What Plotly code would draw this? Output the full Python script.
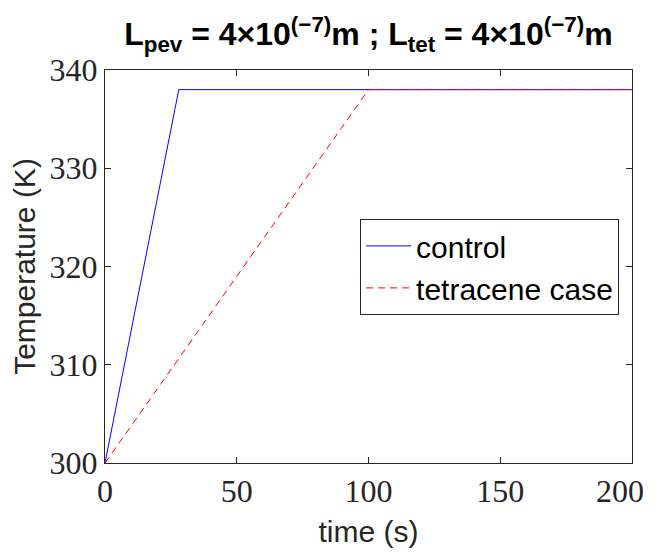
import plotly.graph_objects as go

# Data
control_t = [0, 28, 200]
control_T = [300, 338, 338]
tetracene_t = [0, 100, 200]
tetracene_T = [300, 338, 338]
x_ticks = [0, 50, 100, 150, 200]
x_tick_labels = ["0", "50", "100", "150", "200\u00a0\u00a0\u00a0"]
y_ticks = [300, 310, 320, 330, 340]

SANS = "Liberation Sans, Arial, sans-serif"
SERIF = "Liberation Serif, DejaVu Serif, serif"

fig = go.Figure()
fig.add_trace(go.Scatter(x=control_t, y=control_T, mode="lines", name="control",
                         line=dict(color="#0000ff", width=1)))
fig.add_trace(go.Scatter(x=tetracene_t, y=tetracene_T, mode="lines", name="tetracene case",
                         line=dict(color="#ff0000", width=1, dash="7px,5px")))

axis_common = dict(showline=True, linecolor="#262626", linewidth=1, mirror="ticks",
                   ticks="inside", ticklen=6, tickcolor="#262626", showgrid=False,
                   zeroline=False, automargin=False, ticklabeloverflow="allow",
                   tickfont=dict(family=SERIF, size=32, color="#262626"))

fig.update_layout(
    width=647, height=544,
    margin=dict(l=97, r=23, t=62, b=89),
    paper_bgcolor="white", plot_bgcolor="white",
    title=dict(
        text="<b>L<sub>pev</sub> = 4×10<sup>(−7)</sup>m ; L<sub>tet</sub> = 4×10<sup>(−7)</sup>m</b>",
        x=0.557, xanchor="center", y=0.952, yanchor="middle",
        font=dict(family=SANS, size=32, color="black")),
    xaxis=dict(range=[0, 200], tickvals=x_ticks, ticktext=x_tick_labels,
               title=dict(text="time (s)", font=dict(family=SANS, size=30, color="#262626"), standoff=12),
               **axis_common),
    yaxis=dict(range=[300, 340], tickvals=y_ticks,
               title=dict(text="Temperature (K)", font=dict(family=SANS, size=30, color="#262626"), standoff=9),
               **axis_common),
    legend=dict(x=0.484, y=0.499, xanchor="left", yanchor="middle",
                bgcolor="white", bordercolor="#262626", borderwidth=1,
                font=dict(family=SANS, size=30, color="black"),
                tracegroupgap=0, itemwidth=45),
    showlegend=True,
)

fig.write_html("out.html")
